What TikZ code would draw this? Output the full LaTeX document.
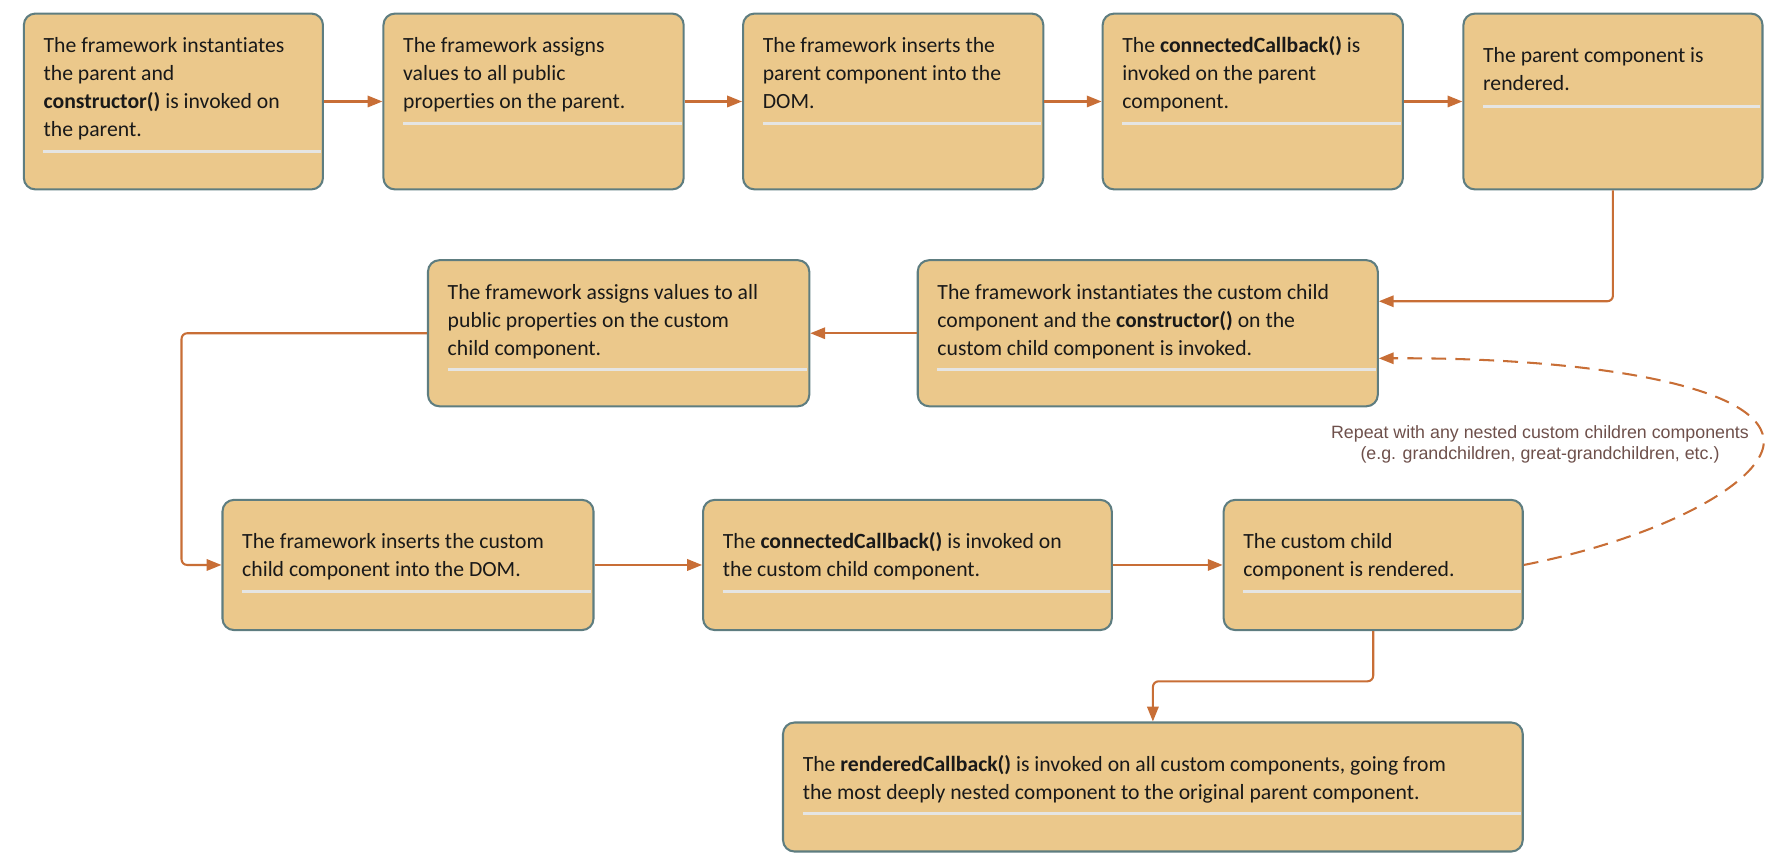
\documentclass[tikz,border=0pt]{standalone}
\usepackage{fontspec}
\usepackage{tikz}
\usetikzlibrary{arrows.meta}
\setmainfont{Carlito}[Ligatures=NoCommon]
\newfontfamily\notefont{Liberation Sans}
\definecolor{boxfill}{RGB}{235,200,139}
\definecolor{boxline}{RGB}{94,125,128}
\definecolor{flowcol}{RGB}{200,110,54}
\definecolor{rulecol}{RGB}{229,229,227}
\definecolor{notecol}{RGB}{110,80,75}

\begin{document}
\begin{tikzpicture}[x=1pt,y=-1pt,
        stepbox/.style={draw=boxline,fill=boxfill,line width=1.8pt,rounded corners=10pt,anchor=north west,inner sep=0pt},
        steptext/.style={anchor=north west,inner sep=0pt,align=left,text=black!90,font=\fontsize{19}{24.5}\selectfont},
        rulebar/.style={draw=rulecol,line width=2.6pt},
        flow/.style={draw=flowcol,line width=1.8pt,-{Triangle[length=13pt,width=10pt]}},
        note/.style={align=center,text=notecol,font=\notefont\fontsize{15.6}{18.5}\selectfont}]
            \useasboundingbox (0,0) rectangle (1568,758);
            \node[stepbox,minimum width=262,minimum height=154] (p1) at (20,11) {};
            \node[stepbox,minimum width=263,minimum height=154] (p2) at (335,11) {};
            \node[stepbox,minimum width=263,minimum height=154] (p3) at (650,11) {};
            \node[stepbox,minimum width=263,minimum height=154] (p4) at (965,11) {};
            \node[stepbox,minimum width=262,minimum height=154] (p5) at (1281,11) {};
            \node[stepbox,minimum width=403,minimum height=128] (c1) at (803,227) {};
            \node[stepbox,minimum width=334,minimum height=128] (c2) at (374,227) {};
            \node[stepbox,minimum width=325,minimum height=114] (c3) at (194,437) {};
            \node[stepbox,minimum width=358,minimum height=114] (c4) at (615,437) {};
            \node[stepbox,minimum width=262,minimum height=114] (c5) at (1071,437) {};
            \node[stepbox,minimum width=648,minimum height=113] (r1) at (685,632) {};
            \node[steptext] (p1t) at (38,28.8) {\strut The framework instantiates\\the parent and\\\textbf{constructor()} is invoked on\\the parent.\strut};
            \node[steptext] (p2t) at (353,28.8) {\strut The framework assigns\\values to all public\\properties on the parent.\strut};
            \node[steptext] (p3t) at (668,28.8) {\strut The framework inserts the\\parent component into the\\DOM.\strut};
            \node[steptext] (p4t) at (983,28.8) {\strut The \textbf{connectedCallback()} is\\invoked on the parent\\component.\strut};
            \node[steptext] (p5t) at (1299,37.8) {\strut The parent component is\\rendered.\strut};
            \node[steptext] (c1t) at (821,244.8) {\strut The framework instantiates the custom child\\component and the \textbf{constructor()} on the\\custom child component is invoked.\strut};
            \node[steptext] (c2t) at (392,244.8) {\strut The framework assigns values to all\\public properties on the custom\\child component.\strut};
            \node[steptext] (c3t) at (212,462.8) {\strut The framework inserts the custom\\child component into the DOM.\strut};
            \node[steptext] (c4t) at (633,462.8) {\strut The \textbf{connectedCallback()} is invoked on\\the custom child component.\strut};
            \node[steptext] (c5t) at (1089,462.8) {\strut The custom child\\component is rendered.\strut};
            \node[steptext] (r1t) at (703,658.8) {\strut The \textbf{renderedCallback()} is invoked on all custom components, going from\\the most deeply nested component to the original parent component.\strut};
            \draw[rulebar] (38,133) -- (281,133);
            \draw[rulebar] (353,108.6) -- (597,108.6);
            \draw[rulebar] (668,108.6) -- (912,108.6);
            \draw[rulebar] (983,108.6) -- (1227,108.6);
            \draw[rulebar] (1299,93) -- (1542,93);
            \draw[rulebar] (821,323.5) -- (1205,323.5);
            \draw[rulebar] (392,323.5) -- (707,323.5);
            \draw[rulebar] (212,518) -- (518,518);
            \draw[rulebar] (633,518) -- (972,518);
            \draw[rulebar] (1089,518) -- (1332,518);
            \draw[rulebar] (703,713) -- (1332,713);
            \draw[flow] (p1) -- (p2);
            \draw[flow] (p2) -- (p3);
            \draw[flow] (p3) -- (p4);
            \draw[flow] (p4) -- (p5);
            \draw[flow,rounded corners=5pt] (p5.south) |- ([yshift=28pt]c1.east);
            \draw[flow] (c1) -- (c2);
            \draw[flow,rounded corners=5pt] (c2.west) -- ++(-215,0) |- (c3.west);
            \draw[flow] (c3) -- (c4);
            \draw[flow] (c4) -- (c5);
            \draw[flow,rounded corners=5pt] (c5.south) -- ++(0,44) -| (r1.north);
            \draw[flow,dash pattern=on 13pt off 8pt] (c5.east) .. controls (1460,470) and (1548,420) .. (1545,385) .. controls (1540,335) and (1380,313) .. ([yshift=-22pt]c1.east);
            \node[note] (repeat) at (1349,389) {Repeat with any nested custom children components\\(e.g. grandchildren, great-grandchildren, etc.)};
\end{tikzpicture}
\end{document}
